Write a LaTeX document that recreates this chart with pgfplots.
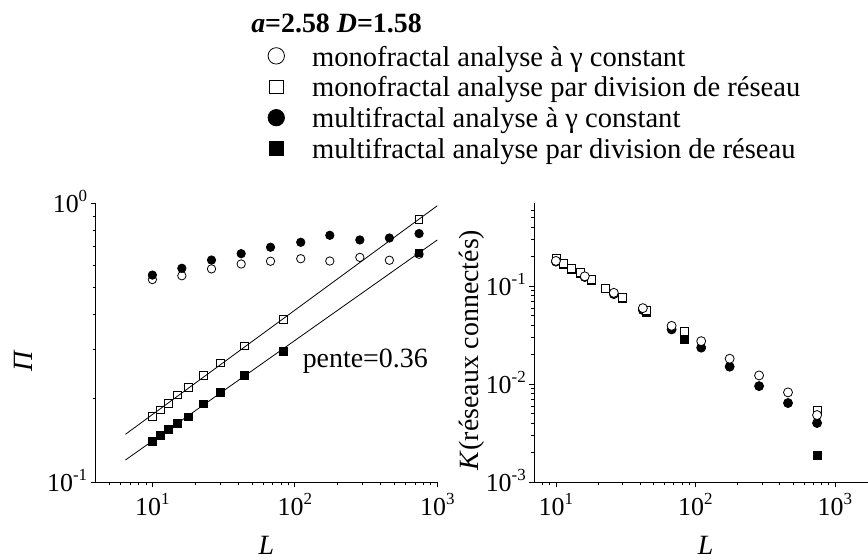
\documentclass[border=0pt]{standalone}
\usepackage{fontspec}
\setmainfont{Liberation Serif}
\usepackage{pgfplots}
\pgfplotsset{compat=1.18}
\newcommand\tp[1]{10\raisebox{0.43em}{\fontsize{17}{17}\selectfont #1}}
\begin{document}
\begin{tikzpicture}
\begin{axis}[xmode=log, ymode=log, scale only axis, axis lines*=left,
  axis line style={line width=0.8bp},
  tick align=outside, major tick length=5bp, minor tick length=3bp,
  tick style={black, line width=0.7bp},
  tick label style={font=\fontsize{26}{28}\selectfont},
  xticklabel style={anchor=base, yshift=-28bp},
  yticklabel style={anchor=base east, yshift=-9bp},
  height=279bp, clip=false,
  at={(95.7bp,77.7bp)}, anchor=south west, width=341.6bp,
  xmin=4, xmax=1000, ymin=0.1, ymax=1,
  xtick={10,100,1000}, xticklabels={\tp{1},\tp{2},\tp{3}},
  minor xtick={5,6,7,8,9,20,30,40,50,60,70,80,90,200,300,400,500,600,700,800,900},
  ytick={0.1,1}, yticklabels={\tp{-1},\tp{0}},
  minor ytick={0.2,0.3,0.4,0.5,0.6,0.7,0.8,0.9},
  xlabel={\textit{L}}, ylabel={\textit{Π}},
  xlabel style={font=\fontsize{28}{30}\selectfont, at={(axis description cs:0.5,-0.26)}, anchor=base},
  ylabel style={font=\fontsize{28}{30}\selectfont, at={(axis description cs:-0.186,0.435)}, anchor=base},
  legend style={at={(axis description cs:0.504,1.568)}, anchor=north west,
    draw=none, fill=none, inner sep=0pt, row sep=-0.8bp,
    font=\fontsize{28.7}{31.7}\selectfont,
    nodes={inner sep=0pt, outer sep=0pt, text height=21bp, text depth=10.7bp}},
  legend cell align=left,
  legend image code/.code={\draw[#1] plot coordinates {(0bp,5bp)};},
]
\addplot[black, line width=0.8bp, forget plot] coordinates {(6.47,0.1486) (1000,0.98)};
\addplot[black, line width=0.8bp, forget plot] coordinates {(6.47,0.1202) (1000,0.739)};
\addplot[black, only marks, mark=o, mark size=4.2bp, mark options={line width=0.8bp}, legend image post style={mark size=8.2bp}] coordinates {
(10,0.533) (16.1,0.550) (26,0.582) (42,0.606) (67.5,0.620) (110,0.633) (176,0.621) (286,0.640) (461,0.625) (745,0.657)};
\addlegendentry{\hspace{27.6bp}monofractal analyse à γ constant}
\addplot[black, only marks, mark=square, mark size=3.8bp, mark options={line width=0.8bp}, legend image post style={mark size=6.7bp}] coordinates {
(10,0.1725) (11.4,0.1817) (12.9,0.1919) (15.05,0.2056) (17.9,0.2185) (22.7,0.2411) (30,0.2678) (44.2,0.308) (83,0.3838) (745,0.874)};
\addlegendentry{\hspace{27.6bp}monofractal analyse par division de réseau}
\addplot[black, only marks, mark=*, mark size=4.2bp, mark options={line width=0.8bp}, legend image post style={mark size=8.2bp}] coordinates {
(10,0.553) (16.1,0.585) (26,0.626) (42,0.660) (67.5,0.696) (110,0.725) (176,0.768) (286,0.739) (461,0.751) (745,0.779)};
\addlegendentry{\hspace{27.6bp}multifractal analyse à γ constant}
\addplot[black, only marks, mark=square*, mark size=3.8bp, mark options={line width=0.8bp}, legend image post style={mark size=6.7bp}] coordinates {
(10,0.1399) (11.4,0.147) (12.9,0.1545) (15.05,0.1623) (17.9,0.1715) (22.7,0.1909) (30,0.2102) (44.2,0.2411) (83,0.2948) (745,0.665)};
\addlegendentry{\hspace{27.6bp}multifractal analyse par division de réseau}
\node[font=\fontsize{28}{30}\selectfont] at (axis cs:312,0.272) {pente=0.36};
\end{axis}
\begin{axis}[xmode=log, ymode=log, scale only axis, axis lines*=left,
  axis line style={line width=0.8bp},
  tick align=outside, major tick length=5bp, minor tick length=3bp,
  tick style={black, line width=0.7bp},
  tick label style={font=\fontsize{26}{28}\selectfont},
  xticklabel style={anchor=base, yshift=-28bp},
  yticklabel style={anchor=base east, yshift=-9bp},
  height=279bp, clip=false,
  at={(534.3bp,77.7bp)}, anchor=south west, width=342.6bp,
  xmin=7, xmax=2000, ymin=0.001, ymax=0.7,
  xtick={10,100,1000}, xticklabels={\tp{1},\tp{2},\tp{3}},
  minor xtick={8,9,20,30,40,50,60,70,80,90,200,300,400,500,600,700,800,900},
  ytick={0.001,0.01,0.1}, yticklabels={\tp{-3},\tp{-2},\tp{-1}},
  minor ytick={0.002,0.003,0.004,0.005,0.006,0.007,0.008,0.009,0.02,0.03,0.04,0.05,0.06,0.07,0.08,0.09,0.2,0.3,0.4,0.5,0.6},
  xlabel={\textit{L}}, ylabel={\textit{K}(réseaux connectés)},
  xlabel style={font=\fontsize{28}{30}\selectfont, at={(axis description cs:0.5,-0.26)}, anchor=base},
  ylabel style={font=\fontsize{28}{30}\selectfont, at={(axis description cs:-0.164,0.474)}, anchor=base},
]
\addplot[black, only marks, mark=square*, mark size=4bp, mark options={line width=0.8bp}] coordinates {
(10,0.188) (11.4,0.168) (12.9,0.150) (15.05,0.136) (17.9,0.115) (22.7,0.094) (30,0.0745) (44.2,0.0545) (83,0.0288) (745,0.0019)};
\addplot[black, only marks, mark=*, mark size=4.5bp, mark options={line width=0.8bp}] coordinates {
(10,0.178) (16.1,0.124) (26,0.083) (42,0.057) (67.5,0.0362) (110,0.0236) (176,0.0151) (286,0.00957) (461,0.00643) (745,0.00402)};
\addplot[black, only marks, mark=square*, mark size=4bp, mark options={line width=0.8bp, fill=white}] coordinates {
(10,0.191) (11.4,0.170) (12.9,0.152) (15.05,0.138) (17.9,0.117) (22.7,0.096) (30,0.0767) (44.2,0.0561) (83,0.0343) (745,0.00546)};
\addplot[black, only marks, mark=*, mark size=4.5bp, mark options={line width=0.8bp, fill=white}] coordinates {
(10,0.181) (16.1,0.126) (26,0.0855) (42,0.0597) (67.5,0.0394) (110,0.0275) (176,0.0182) (286,0.0123) (461,0.00826) (745,0.00485)};
\end{axis}
\node[font=\fontsize{28}{30}\selectfont\bfseries] at (336.5bp,537bp) {\textit{a}=2.58 \textit{D}=1.58};
\pgfresetboundingbox
\path[use as bounding box] (0,0) rectangle (868bp,560bp);
\end{tikzpicture}
\end{document}
